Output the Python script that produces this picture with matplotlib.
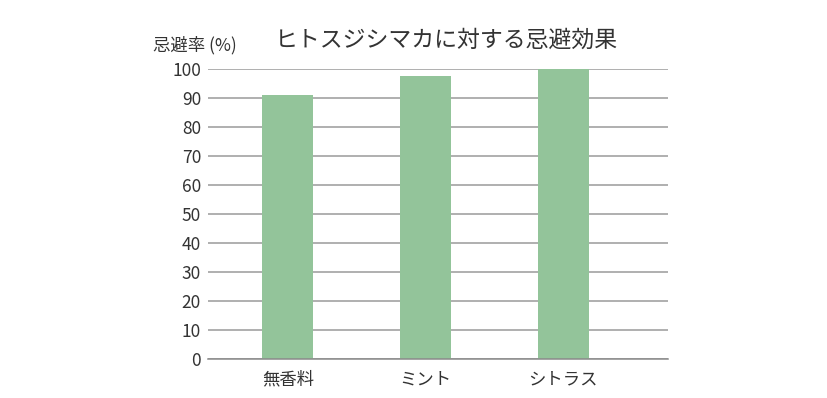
import matplotlib
matplotlib.use("Agg")
import matplotlib.pyplot as plt

plt.rcParams['font.family'] = ['Noto Sans CJK JP', 'DejaVu Sans']

categories = ["無香料", "ミント", "シトラス"]
values = [91, 97.5, 100]
yticks = [0, 10, 20, 30, 40, 50, 60, 70, 80, 90, 100]
title = "ヒトスジシマカに対する忌避効果"
ylabel = "忌避率 (%)"

fig = plt.figure(figsize=(8.28, 3.98), dpi=100)
ax = fig.add_axes([208/828, 1-359/398, (668-208)/828, (359-69)/398])

x = list(range(len(categories)))
ax.bar(x, values, width=0.37, color="#93c49a", zorder=3)

ax.set_ylim(0, 100)
ax.set_xlim(-0.58, 2.76)
ax.set_yticks(yticks)
ax.set_xticks(x)
ax.set_xticklabels(categories)
ax.yaxis.grid(True, color="#9a9a9a", linewidth=1.1, zorder=0)
ax.xaxis.grid(False)
for s in ["top", "right", "left"]:
    ax.spines[s].set_visible(False)
ax.spines["bottom"].set_color("#8a8a8a")
ax.spines["bottom"].set_linewidth(1.1)
ax.spines["bottom"].set_zorder(4)
ax.tick_params(axis="both", length=0, colors="#333333")
ax.tick_params(axis="y", labelsize=12.5, pad=5)
ax.tick_params(axis="x", labelsize=12.5, pad=8)

fig.text(153/828, 1-45/398, ylabel, fontsize=12.5, color="#333333", ha="left", va="center")
fig.text(275/828, 1-40/398, title, fontsize=16.5, color="#333333", ha="left", va="center")

fig.savefig("out.png", dpi=100)
